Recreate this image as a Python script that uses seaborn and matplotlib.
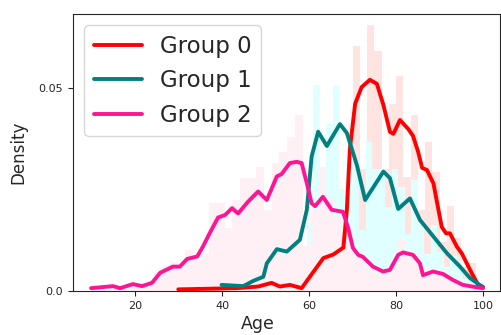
import numpy as np
import pandas as pd
import matplotlib
matplotlib.use("Agg")
import matplotlib.pyplot as plt
import seaborn as sns

# ── Datos ───────────────────────────────────────────────────────────────────
groups = ["Group 0", "Group 1", "Group 2"]
line_colors = ["red", "teal", "deeppink"]
bar_colors = ["mistyrose", "lightcyan", "lavenderblush"]

# histogramas (densidad por bin): rango y alturas
g0_range = (30, 100)
g0_heights = [0.0006, 0.0006, 0.0003, 0.0006, 0.0006, 0.0003, 0.0009, 0.0006,
              0.0003, 0.0009, 0.0014, 0.0006, 0.0023, 0.0017, 0.0009, 0.0017,
              0.0011, 0.0003, 0.0060, 0.0085, 0.0045, 0.0110, 0.0105, 0.0220,
              0.0602, 0.0300, 0.0655, 0.0590, 0.0300, 0.0460, 0.0530, 0.0280,
              0.0433, 0.0200, 0.0368, 0.0294, 0.0120, 0.0210, 0.0130, 0.0060,
              0.0070, 0.0020]

g1_range = (40, 100)
g1_heights = [0.0013, 0.0007, 0.0013, 0.0013, 0.0007, 0.0040, 0.0033, 0.0093,
              0.0133, 0.0067, 0.0133, 0.0140, 0.0100, 0.0167, 0.0507, 0.0250,
              0.0410, 0.0505, 0.0250, 0.0320, 0.0320, 0.0150, 0.0368, 0.0300,
              0.0300, 0.0208, 0.0300, 0.0257, 0.0140, 0.0273, 0.0167, 0.0090,
              0.0163, 0.0097, 0.0060, 0.0085, 0.0060, 0.0030, 0.0025, 0.0010]

g2_range = (10, 100)
g2_heights = [0.0006, 0.0006, 0.0012, 0.0006, 0.0006, 0.0018, 0.0012, 0.0018,
              0.0048, 0.0064, 0.0072, 0.0060, 0.0101, 0.0076, 0.0094, 0.0217,
              0.0217, 0.0155, 0.0224, 0.0278, 0.0278, 0.0306, 0.0200, 0.0315,
              0.0343, 0.0380, 0.0433, 0.0110, 0.0200, 0.0306, 0.0232, 0.0180,
              0.0150, 0.0106, 0.0089, 0.0060, 0.0044, 0.0050, 0.0070, 0.0126,
              0.0097, 0.0089, 0.0060, 0.0044, 0.0050, 0.0040, 0.0027, 0.0020,
              0.0015, 0.0010]

# curvas de densidad
g0_x = [29.95, 43.4, 48.3, 51.4, 53.3, 55.6, 58.3, 61.0, 63.3, 65.6, 67.9,
        68.7, 69.4, 70.6, 72.1, 74.0, 75.6, 77.1, 78.6, 79.4, 80.9, 82.8,
        83.9, 85.1, 86.0, 87.1, 88.6, 90.5, 91.5, 92.4, 94.0, 95.1, 97.4,
        98.9, 100.0]
g0_y = [0.0004, 0.0007, 0.0011, 0.0020, 0.0011, 0.0015, 0.0007, 0.0047,
        0.0081, 0.0090, 0.0107, 0.0200, 0.0350, 0.0461, 0.0502, 0.0520,
        0.0510, 0.0458, 0.0392, 0.0387, 0.0421, 0.0399, 0.0382, 0.0342,
        0.0303, 0.0298, 0.0265, 0.0158, 0.0142, 0.0142, 0.0109, 0.0093,
        0.0044, 0.0015, 0.0010]

g1_x = [39.9, 44.9, 47.2, 49.5, 50.3, 52.6, 54.9, 57.9, 59.5, 60.6, 62.1,
        64.1, 67.1, 68.7, 71.0, 72.9, 77.1, 78.6, 80.5, 83.2, 85.5, 88.6,
        91.7, 94.7, 97.0, 100.0]
g1_y = [0.0015, 0.0012, 0.0025, 0.0035, 0.0068, 0.0103, 0.0097, 0.0126,
        0.0200, 0.0331, 0.0392, 0.0357, 0.0411, 0.0389, 0.0310, 0.0224,
        0.0294, 0.0278, 0.0202, 0.0228, 0.0175, 0.0134, 0.0093, 0.0060,
        0.0032, 0.0009]

g2_x = [9.9, 14.9, 16.6, 19.5, 21.6, 23.9, 25.8, 28.7, 30.3, 32.0, 34.3,
        35.6, 37.2, 39.1, 40.7, 42.3, 43.7, 46.0, 48.3, 50.3, 52.6, 53.7,
        55.6, 57.2, 58.3, 59.5, 60.6, 61.4, 63.2, 65.2, 67.8, 69.0, 70.1,
        71.3, 72.4, 74.7, 77.0, 78.6, 80.5, 81.6, 83.9, 85.5, 86.2, 88.5,
        90.8, 93.1, 95.4, 98.6, 100.0]
g2_y = [0.0007, 0.0012, 0.0007, 0.0017, 0.0012, 0.0020, 0.0045, 0.0060,
        0.0060, 0.0079, 0.0085, 0.0109, 0.0143, 0.0181, 0.0187, 0.0204,
        0.0191, 0.0220, 0.0245, 0.0224, 0.0282, 0.0288, 0.0315, 0.0318,
        0.0315, 0.0265, 0.0216, 0.0209, 0.0232, 0.0200, 0.0195, 0.0155,
        0.0106, 0.0089, 0.0084, 0.0060, 0.0048, 0.0052, 0.0089, 0.0095,
        0.0089, 0.0068, 0.0039, 0.0048, 0.0042, 0.0027, 0.0015, 0.0009,
        0.0007]

hist_ranges = [g0_range, g1_range, g2_range]
hist_heights = [g0_heights, g1_heights, g2_heights]
curve_x = [g0_x, g1_x, g2_x]
curve_y = [g0_y, g1_y, g2_y]

# ── Figura ──────────────────────────────────────────────────────────────────
sns.set_style("ticks")

fig = plt.figure(figsize=(5.02, 3.35), dpi=100)
ax = fig.add_axes([73 / 502, 44 / 335, 427 / 502, 277 / 335])

for rng, heights, color in zip(hist_ranges, hist_heights, bar_colors):
    n = len(heights)
    edges = np.linspace(rng[0], rng[1], n + 1)
    centers = (edges[:-1] + edges[1:]) / 2
    hdf = pd.DataFrame({"x": centers, "w": heights})
    sns.histplot(data=hdf, x="x", weights="w", bins=n, binrange=rng,
                 stat="count", color=color, alpha=1, linewidth=0, ax=ax)

for xs, ys, color, label in zip(curve_x, curve_y, line_colors, groups):
    sns.lineplot(x=xs, y=ys, color=color, linewidth=2.8, label=label, ax=ax)

ax.set_xlim(5.75, 103.9)
ax.set_ylim(0, 0.0682)
ax.set_xticks([20, 40, 60, 80, 100])
ax.set_yticks([0.0, 0.05])
ax.set_yticklabels(["0.0", "0.05"])
ax.tick_params(labelsize=8, length=3.5)
ax.set_xlabel("Age", fontsize=12.5)
ax.xaxis.set_label_coords(0.433, -0.088)
ax.set_ylabel("Density", fontsize=12, labelpad=8)
ax.legend(loc="upper left", fontsize=16.5, handlelength=2.1)

fig.savefig("out.png", dpi=100)
